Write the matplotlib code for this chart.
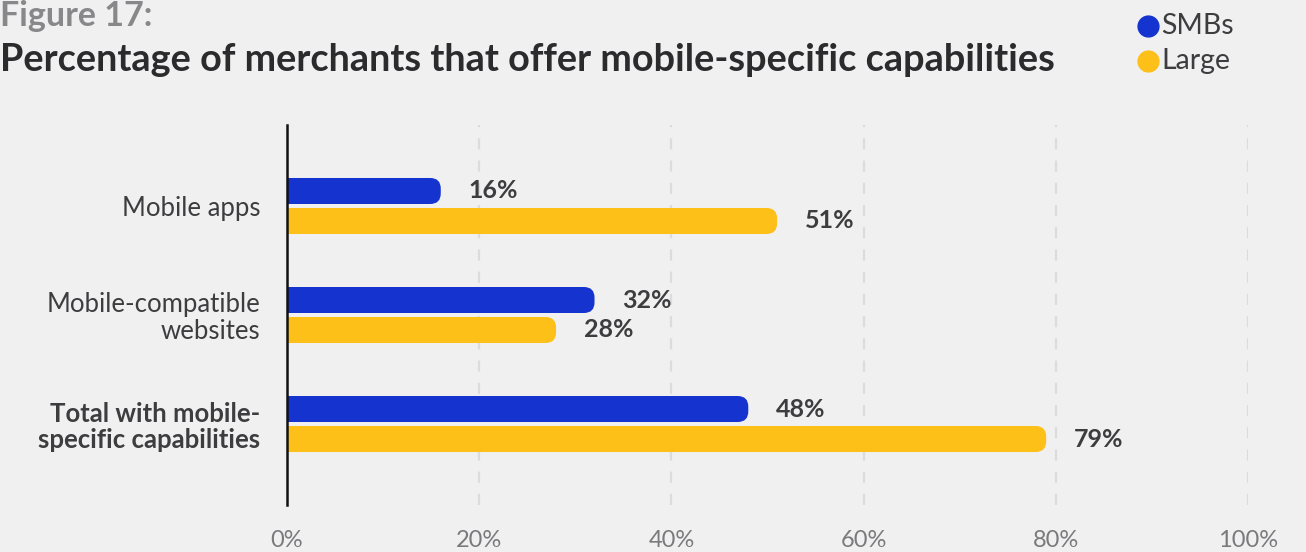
import matplotlib
matplotlib.use("Agg")
import matplotlib.pyplot as plt
from matplotlib.patches import FancyBboxPatch
from matplotlib.lines import Line2D

categories = ["Mobile apps", "Mobile-compatible\nwebsites", "Total with mobile-\nspecific capabilities"]
smbs = [16, 32, 48]
large = [51, 28, 79]
xticks = [0, 20, 40, 60, 80, 100]
xtick_labels = ["0%", "20%", "40%", "60%", "80%", "100%"]

BLUE = "#1433cf"
YELLOW = "#fdc018"
BG = "#f0f0f0"
DARK = "#3d3d3f"

plt.rcParams["font.family"] = ["Lato", "DejaVu Sans"]

fig = plt.figure(figsize=(13.06, 5.52), dpi=100, facecolor=BG)
ax = fig.add_axes([287 / 1306, 1 - 505 / 552, (1248 - 287) / 1306, 380 / 552])
ax.set_facecolor(BG)

ax.set_xlim(0, 100)
ax.set_ylim(2.743, -0.743)

bar_h = 0.2385
off = 0.1376
# px -> data aspect so the rounded end is circular on screen
aspect = (961 / 100) / 109


def rounded_bar(y, value, color):
    p = FancyBboxPatch((-3, y - bar_h / 2), value + 3, bar_h,
                       boxstyle="round,pad=0,rounding_size=1.1",
                       mutation_aspect=aspect, fc=color, ec="none", zorder=3)
    ax.add_patch(p)


for i in range(len(categories)):
    rounded_bar(i - off, smbs[i], BLUE)
    rounded_bar(i + off, large[i], YELLOW)
    ax.text(smbs[i] + 2.9, i - off, f"{smbs[i]}%", va="center", ha="left",
            fontsize=18, fontweight="bold", color=DARK)
    ax.text(large[i] + 2.9, i + off, f"{large[i]}%", va="center", ha="left",
            fontsize=18, fontweight="bold", color=DARK)

for x in xticks[1:]:
    ax.axvline(x, color="#dcdcdc", lw=1.6, ls=(0, (5, 5)), zorder=1)

for s in ["top", "right", "bottom"]:
    ax.spines[s].set_visible(False)
ax.spines["left"].set_linewidth(1.8)
ax.spines["left"].set_color("#111111")
ax.spines["left"].set_zorder(4)

ax.set_xticks(xticks)
ax.set_xticklabels(xtick_labels, fontsize=17, color="#7a7a7d")
ax.tick_params(axis="x", length=0, pad=18)

ax.set_yticks(range(len(categories)))
ax.set_yticklabels(categories, fontsize=18.5, color=DARK, linespacing=1.1)
ax.tick_params(axis="y", length=0, pad=19)
ax.get_yticklabels()[2].set_fontweight("bold")

fig.text(0.0, 1 - 16 / 552, "Figure 17:", fontsize=24.5, fontweight="bold",
         color="#88888b", va="center", ha="left")
fig.text(0.0, 1 - 60 / 552, "Percentage of merchants that offer mobile-specific capabilities",
         fontsize=27.3, fontweight="bold", color="#2b2b2d", va="center", ha="left")

# legend drawn as markers + labels in figure coords
for j, (lab, col) in enumerate([("SMBs", BLUE), ("Large", YELLOW)]):
    yy = 1 - (26 + 35 * j) / 552
    fig.add_artist(Line2D([1148 / 1306], [yy], marker="o", ms=15, color=col,
                          transform=fig.transFigure))
    fig.text(1161 / 1306, yy, lab, fontsize=20.5, color="#3d3d3f", va="center", ha="left")

fig.savefig("out.png", dpi=100, facecolor=BG)
